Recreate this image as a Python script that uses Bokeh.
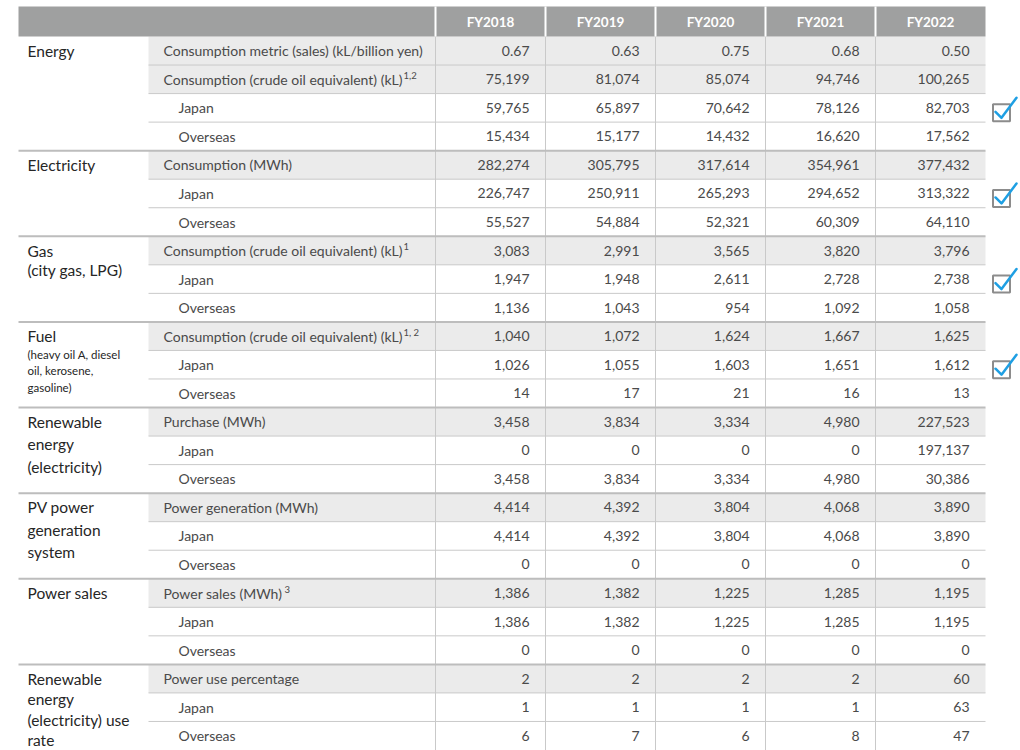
from bokeh.plotting import figure
from bokeh.models import Range1d
from bokeh.embed import file_html
from bokeh.resources import INLINE
from bokeh.core.properties import value

# ---------------- data ----------------
years = ["FY2018", "FY2019", "FY2020", "FY2021", "FY2022"]

group_names = [
    "Energy",
    "Electricity",
    "Gas\n(city gas, LPG)",
    "Fuel",
    "Renewable\nenergy\n(electricity)",
    "PV power\ngeneration\nsystem",
    "Power sales",
    "Renewable\nenergy\n(electricity) use\nrate",
]
fuel_note = "(heavy oil A, diesel\noil, kerosene,\ngasoline)"
group_sizes = [4, 3, 3, 3, 3, 3, 3, 3]

item_labels = [
    "Consumption metric (sales) (kL/billion yen)",
    "Consumption (crude oil equivalent) (kL)",
    "Japan", "Overseas",
    "Consumption (MWh)", "Japan", "Overseas",
    "Consumption (crude oil equivalent) (kL)", "Japan", "Overseas",
    "Consumption (crude oil equivalent) (kL)", "Japan", "Overseas",
    "Purchase (MWh)", "Japan", "Overseas",
    "Power generation (MWh)", "Japan", "Overseas",
    "Power sales (MWh)", "Japan", "Overseas",
    "Power use percentage", "Japan", "Overseas",
]
# footnote marks: row index -> superscript text
footnotes = {1: "1,2", 7: "1", 10: "1, 2", 19: "3"}

fy2018 = [0.67, 75199, 59765, 15434, 282274, 226747, 55527, 3083, 1947, 1136,
          1040, 1026, 14, 3458, 0, 3458, 4414, 4414, 0, 1386, 1386, 0, 2, 1, 6]
fy2019 = [0.63, 81074, 65897, 15177, 305795, 250911, 54884, 2991, 1948, 1043,
          1072, 1055, 17, 3834, 0, 3834, 4392, 4392, 0, 1382, 1382, 0, 2, 1, 7]
fy2020 = [0.75, 85074, 70642, 14432, 317614, 265293, 52321, 3565, 2611, 954,
          1624, 1603, 21, 3334, 0, 3334, 3804, 3804, 0, 1225, 1225, 0, 2, 1, 6]
fy2021 = [0.68, 94746, 78126, 16620, 354961, 294652, 60309, 3820, 2728, 1092,
          1667, 1651, 16, 4980, 0, 4980, 4068, 4068, 0, 1285, 1285, 0, 2, 1, 8]
fy2022 = [0.50, 100265, 82703, 17562, 377432, 313322, 64110, 3796, 2738, 1058,
          1625, 1612, 13, 227523, 197137, 30386, 3890, 3890, 0, 1195, 1195, 0, 60, 63, 47]

checked_rows = [2, 5, 8, 11]   # rows carrying the verification mark

# ---------------- layout / style ----------------
W, H = 1020, 750
X0 = 18          # table left
XSUB = 148       # sub-item column left
XNUM = 435       # first value column left
CW = 110         # value column width
XR = XNUM + CW * len(years)
TOP_H = 6
TOP = 36
RH = 28.54
FONT = "Lato"
TXT = "#4a4a4a"
GRID = "#c9c9c9"
ITEM_SIZE = "14px"
# where the footnote marks start (just after the label they belong to)
sup_x = {1: 403, 7: 403, 10: 403, 19: 284}
line_gap = [22.5, 22.5, 19, 22.5, 22.5, 22.5, 22.5, 20.5]

series = [fy2018, fy2019, fy2020, fy2021, fy2022]
nrows = len(item_labels)

def yc(i):
    return TOP + (i + 0.5) * RH

def ytop(i):
    return TOP + i * RH

p = figure(width=W, height=H, x_range=Range1d(0, W), y_range=Range1d(H, 0),
           output_backend="svg", toolbar_location=None, min_border=0,
           x_axis_location=None, y_axis_location=None)
p.grid.visible = False
p.outline_line_color = None
p.background_fill_color = "white"
p.border_fill_color = "white"

group_start = []
s = 0
for g in group_sizes:
    group_start.append(s)
    s += g

# shaded first rows (and first two rows of Energy)
shaded = list(group_start) + [1]
p.quad(left=[XSUB] * len(shaded), right=[XR] * len(shaded),
       top=[ytop(i) for i in shaded], bottom=[ytop(i) + RH for i in shaded],
       fill_color="#ebebeb", line_color=None)

# header
p.quad(left=[X0], right=[XR], top=[TOP_H], bottom=[TOP], fill_color="#9fa0a0", line_color=None)

# vertical lines
vx = [XNUM + k * CW for k in range(len(years))]
p.segment(x0=vx, x1=vx, y0=[TOP] * len(vx), y1=[ytop(nrows)] * len(vx),
          line_color=GRID, line_width=1)
p.segment(x0=vx, x1=vx, y0=[TOP_H] * len(vx), y1=[TOP] * len(vx),
          line_color="white", line_width=2)

# horizontal lines
inner = [i for i in range(1, nrows) if i not in group_start]
p.segment(x0=[XSUB] * len(inner), x1=[XR] * len(inner),
          y0=[ytop(i) for i in inner], y1=[ytop(i) for i in inner],
          line_color=GRID, line_width=1)
outer = [i for i in group_start if i > 0]
p.segment(x0=[X0] * len(outer), x1=[XR] * len(outer),
          y0=[ytop(i) for i in outer], y1=[ytop(i) for i in outer],
          line_color="#bdbdbd", line_width=2)

# header text
p.text(x=[XNUM + (k + 0.5) * CW for k in range(len(years))], y=[(TOP_H + TOP) / 2] * len(years),
       text=years, text_font=value(FONT), text_font_style="bold", text_font_size="13.5px",
       text_color="white", text_align="center", text_baseline="middle")

# item labels
ix = [XSUB + (30 if lab in ("Japan", "Overseas") else 15) for lab in item_labels]
p.text(x=ix, y=[yc(i) for i in range(nrows)], text=item_labels, text_font=value(FONT),
       text_font_size=ITEM_SIZE, text_color=TXT, text_align="left", text_baseline="middle")

# footnote marks
fr = list(footnotes.keys())
p.text(x=[sup_x[i] for i in fr], y=[yc(i) - 4 for i in fr], text=[footnotes[i] for i in fr],
       text_font=value(FONT), text_font_size="9.5px", text_color=TXT,
       text_align="left", text_baseline="middle")

# values
for k, ser in enumerate(series):
    labels = [(f"{v:.2f}" if i == 0 else f"{int(v):,}") for i, v in enumerate(ser)]
    p.text(x=[XNUM + (k + 1) * CW - 16] * nrows, y=[yc(i) for i in range(nrows)], text=labels,
           text_font=value(FONT), text_font_size=ITEM_SIZE, text_color=TXT,
           text_align="right", text_baseline="middle")

# group names (one text per line)
gx, gy, gt = [], [], []
for name, st, gap in zip(group_names, group_start, line_gap):
    for j, ln in enumerate(name.split("\n")):
        gx.append(X0 + 9)
        gy.append(yc(st) + j * gap)
        gt.append(ln)
p.text(x=gx, y=gy, text=gt, text_font=value(FONT), text_font_size="15.5px",
       text_color="#262626", text_align="left", text_baseline="middle")

fst = group_start[group_names.index("Fuel")]
nl = fuel_note.split("\n")
p.text(x=[X0 + 9] * len(nl), y=[yc(fst) + 18 + j * 16.5 for j in range(len(nl))], text=nl,
       text_font=value(FONT), text_font_size="11.5px", text_color="#262626",
       text_align="left", text_baseline="middle")

# verification marks
bx = XR + 16
p.rect(x=[bx] * len(checked_rows), y=[yc(i) + 5 for i in checked_rows], width=17, height=17,
       fill_color=None, line_color="#8c8c8c", line_width=2)
p.multi_line(xs=[[bx - 6, bx, bx + 15] for _ in checked_rows],
             ys=[[yc(i) + 4, yc(i) + 10, yc(i) - 10] for i in checked_rows],
             line_color="#1e9fe3", line_width=2.5, line_cap="round", line_join="round")

open("out.html", "w").write(file_html(p, INLINE))
